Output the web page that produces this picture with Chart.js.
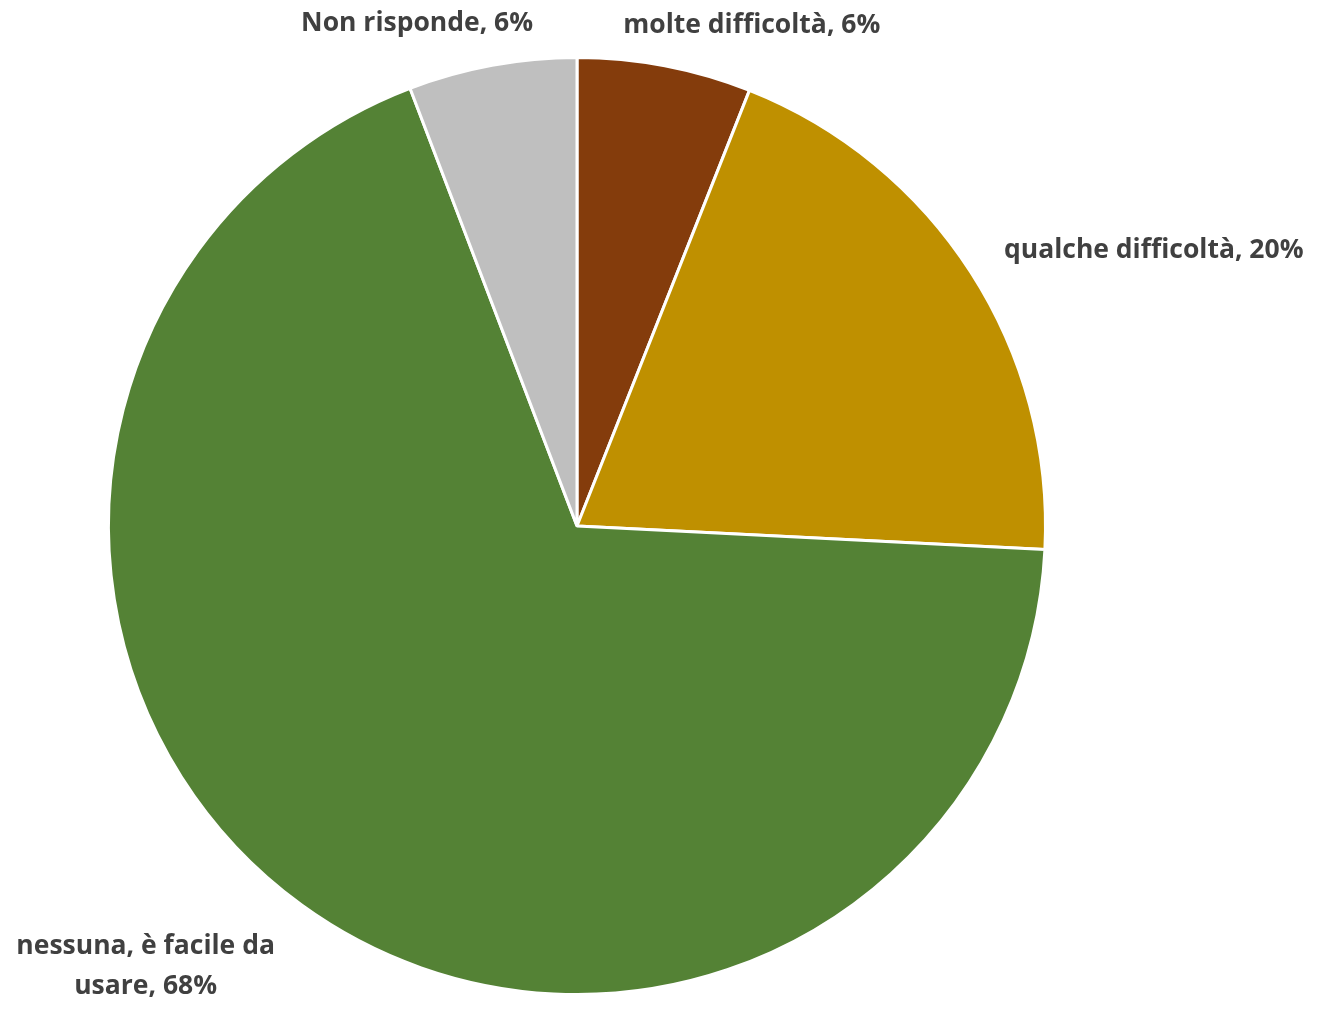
<!DOCTYPE html>
<html>
<head>
<meta charset="utf-8">
<script src="https://cdn.jsdelivr.net/npm/chart.js@4/dist/chart.umd.min.js"></script>
<style>
    html, body { margin: 0; padding: 0; background: #ffffff; }
    #wrap { width: 1319px; height: 1010px; }
</style>
</head>
<body>
<div id="wrap"><canvas id="pie" width="1319" height="1010"></canvas></div>
<script>
const categories = ['molte difficoltà', 'qualche difficoltà', 'nessuna, è facile da usare', 'Non risponde'];
const values = [6.0, 19.8, 68.4, 5.8];
const percentLabels = ['6%', '20%', '68%', '6%'];
const colors = ['#843C0C', '#BF9000', '#548235', '#BFBFBF'];

// label text lines, per slice
const labelLines = [
    ['molte difficoltà, 6%'],
    ['qualche difficoltà, 20%'],
    ['nessuna, è facile da', 'usare, 68%'],
    ['Non risponde, 6%']
];

const outsideLabels = {
    id: 'outsideLabels',
    afterDatasetsDraw(chart) {
        const ctx = chart.ctx;
        const meta = chart.getDatasetMeta(0);
        // nudge from the arc edge midpoint to where the label sits
        const offsets = [
            { dx: 87, dy: -40, align: 'center' },
            { dx: 33, dy: -22, align: 'left' },
            { dx: -156, dy: 61, align: 'center' },
            { dx: -75, dy: -42, align: 'center' }
        ];
        ctx.save();
        ctx.font = 'bold 26.5px "Open Sans"';
        ctx.fillStyle = '#404040';
        ctx.textBaseline = 'middle';
        meta.data.forEach((arc, i) => {
            const mid = (arc.startAngle + arc.endAngle) / 2;
            const x = arc.x + Math.cos(mid) * arc.outerRadius + offsets[i].dx;
            const y = arc.y + Math.sin(mid) * arc.outerRadius + offsets[i].dy;
            const lines = labelLines[i];
            const lh = 40;
            ctx.textAlign = offsets[i].align;
            lines.forEach((line, j) => {
                ctx.fillText(line, x, y + (j - (lines.length - 1) / 2) * lh);
            });
        });
        ctx.restore();
    }
};

new Chart(document.getElementById('pie'), {
    type: 'pie',
    data: {
        labels: categories,
        datasets: [{
            data: values,
            backgroundColor: colors,
            borderColor: '#ffffff',
            borderWidth: 3,
            hoverOffset: 0
        }]
    },
    options: {
        responsive: false,
        animation: false,
        layout: {
            padding: { left: 107, right: 272, top: 56, bottom: 14 }
        },
        plugins: {
            legend: { display: false },
            tooltip: { enabled: false }
        }
    },
    plugins: [outsideLabels]
});
</script>
</body>
</html>
